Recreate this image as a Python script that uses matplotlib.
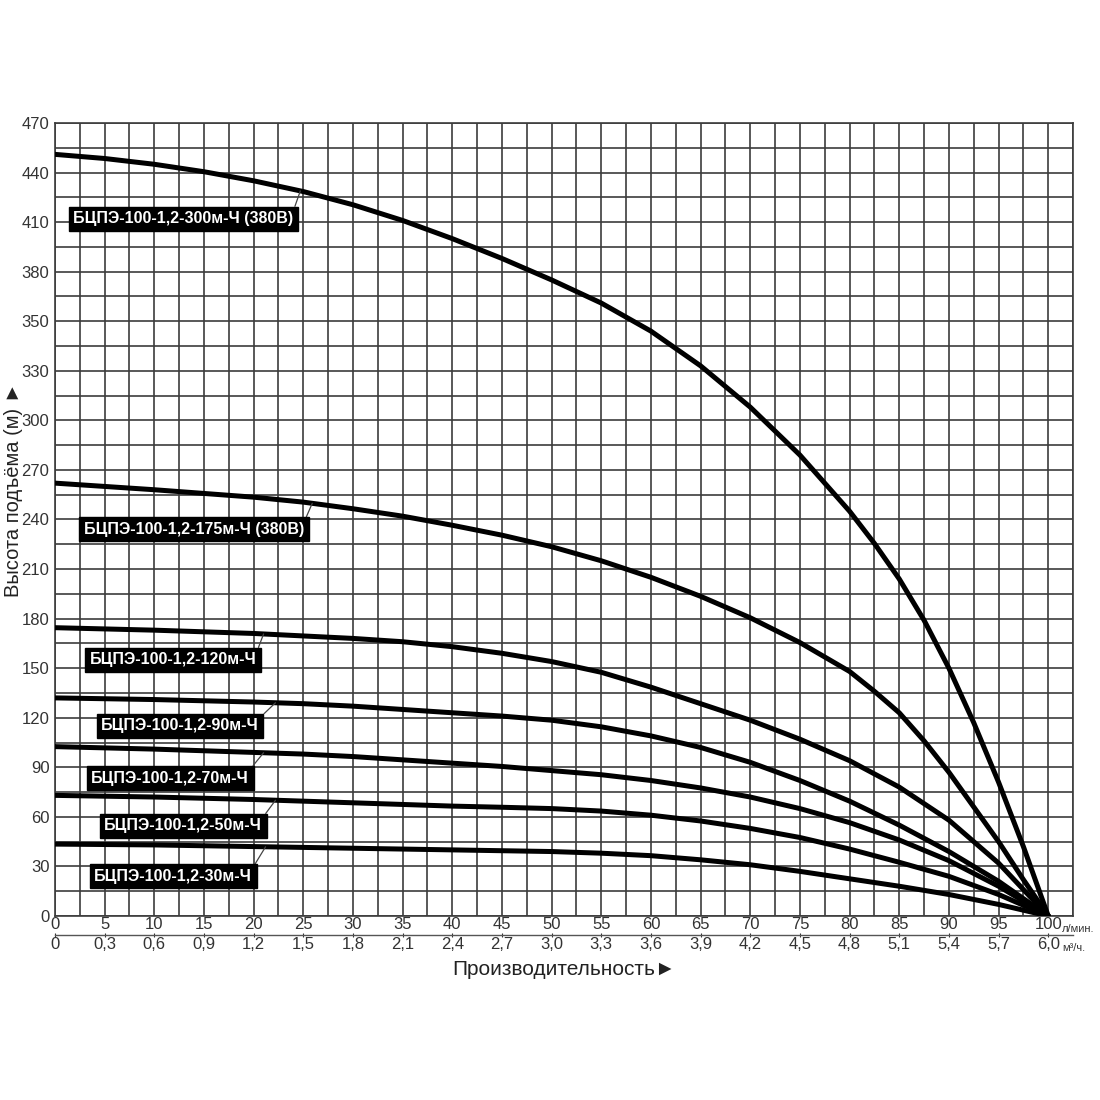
import numpy as np
import matplotlib
matplotlib.use('Agg')
import matplotlib.pyplot as plt

# Flow (l/min) and head.
# Head is given in the chart's own axis units: label k sits at 30*k.
flow_300 = [0, 5, 10, 15, 20, 25, 30, 35, 40, 45, 50, 55, 60, 65, 70, 75, 80, 82.5, 85, 87.5, 90, 92.5, 95, 97.5, 100]
head_300 = [461, 458.5, 455, 450.5, 445, 438.5, 430.5, 421, 410, 398, 385, 371, 354, 333, 308, 279, 245, 225.5, 204, 179, 150, 117, 81, 42, 0]

flow_175 = [0, 10, 20, 25, 30, 35, 40, 45, 50, 55, 60, 65, 70, 75, 80, 82.5, 85, 87.5, 90, 92.5, 95, 97.5, 100]
head_175 = [262, 258, 253.5, 250.5, 246.5, 242, 236.5, 230.5, 223.5, 215, 205, 193.5, 180.5, 165.5, 148, 136, 123, 106, 87, 66, 45, 22, 0]

flow_std = [0, 10, 20, 25, 30, 35, 40, 45, 50, 55, 60, 65, 70, 75, 80, 85, 90, 95, 100]
head_120 = [174.5, 173, 171, 169.5, 168, 166, 163, 159, 154, 147.5, 138.5, 128.5, 118.5, 107, 94, 78, 58, 32, 0]
head_90 = [132, 131, 129.5, 128.5, 127, 125, 123, 121, 118.5, 114.5, 109, 102, 93, 82, 69.5, 55, 39, 21, 0]
head_70 = [102.5, 101, 99, 98, 96.5, 94.5, 92.5, 90.5, 88, 85.5, 82, 77.5, 72, 65, 56.5, 46, 33.5, 18, 0]
head_50 = [73, 72, 70.5, 69.5, 68.5, 67.5, 66.5, 65.8, 65, 63.5, 61, 57.5, 53, 47.5, 40.5, 32.5, 24, 13, 0]
head_30 = [43.5, 43, 42, 41.5, 41, 40.5, 40, 39.5, 39, 38, 36.5, 34, 31, 27, 22.5, 18, 13, 7, 0]

names = ['БЦПЭ-100-1,2-300м-Ч (380В)', 'БЦПЭ-100-1,2-175м-Ч (380В)',
         'БЦПЭ-100-1,2-120м-Ч', 'БЦПЭ-100-1,2-90м-Ч', 'БЦПЭ-100-1,2-70м-Ч',
         'БЦПЭ-100-1,2-50м-Ч', 'БЦПЭ-100-1,2-30м-Ч']

y_labels = ['0', '30', '60', '90', '120', '150', '180', '210', '240', '270',
            '300', '330', '350', '380', '410', '440', '470']
x_labels = [str(v) for v in range(0, 101, 5)]
m3h_labels = ['0', '0,3', '0,6', '0,9', '1,2', '1,5', '1,8', '2,1', '2,4', '2,7', '3,0',
              '3,3', '3,6', '3,9', '4,2', '4,5', '4,8', '5,1', '5,4', '5,7', '6,0']

plt.rcParams['font.family'] = ['Liberation Sans', 'DejaVu Sans']

fig = plt.figure(figsize=(11, 11), dpi=100)
ax = fig.add_axes([0.05, 0.1673, 0.9255, 0.7209])

grid_col = '#3c3c3c'
ax.set_xlim(0, 102.5)
ax.set_ylim(0, 480)
ax.set_xticks(np.arange(0, 102.6, 2.5), minor=True)
ax.set_yticks(np.arange(0, 481, 15), minor=True)
ax.set_yticks(np.arange(0, 481, 30), labels=y_labels)
ax.set_xticks(np.arange(0, 101, 5), labels=x_labels)
ax.grid(which='both', color=grid_col, lw=1.2)
ax.set_axisbelow(True)
for s in ax.spines.values():
    s.set_color(grid_col)
    s.set_linewidth(1.2)

ax.tick_params(which='both', length=0, colors='#333333', labelsize=12)
ax.tick_params(axis='x', pad=1)
ax.tick_params(axis='y', pad=4)

# second scale in m3/h under the l/min labels
sec = ax.secondary_xaxis(-0.024)
sec.set_xticks(np.arange(0, 101, 5), labels=m3h_labels)
sec.spines['bottom'].set_color('#555555')
sec.spines['bottom'].set_linewidth(1.0)
sec.tick_params(length=3, direction='inout', colors='#333333', labelsize=12, pad=0)

ax.text(101.4, -0.016, 'л/мин.', transform=ax.get_xaxis_transform(), fontsize=8,
        color='#333333', ha='left', va='center')
ax.text(101.4, -0.04, 'м³/ч.', transform=ax.get_xaxis_transform(), fontsize=8,
        color='#333333', ha='left', va='center')

ax.set_xlabel('Производительность►', fontsize=15, color='#222222', labelpad=20)
fig.text(0.012, 0.555, 'Высота подъёма (м) ►', rotation=90, fontsize=14.5,
         color='#222222', ha='center', va='center')

curves = [(flow_300, head_300), (flow_175, head_175), (flow_std, head_120), (flow_std, head_90),
          (flow_std, head_70), (flow_std, head_50), (flow_std, head_30)]
for fl, hd in curves:
    ax.plot(fl, hd, color='black', lw=3.6, solid_capstyle='round', solid_joinstyle='round', zorder=3)

# label boxes: box centre and the flow where the leader meets the curve
box_x = [12.9, 14.0, 11.9, 12.6, 11.6, 12.9, 11.9]
box_y = [422, 234, 155, 115, 83.5, 54.5, 24]
lead_x = [24.7, 25.9, 21.0, 22.2, 21.0, 22.2, 21.2]
for (fl, hd), name, bx, by, lx in zip(curves, names, box_x, box_y, lead_x):
    ax.annotate(name, xy=(lx, np.interp(lx, fl, hd)), xytext=(bx, by),
                ha='center', va='center', color='white', fontsize=11.5, fontweight='bold',
                bbox=dict(boxstyle='square,pad=0.28', fc='black', ec='black'),
                arrowprops=dict(arrowstyle='-', color='#444444', lw=0.9, relpos=(1, 1),
                                shrinkA=0, shrinkB=0),
                zorder=4)

fig.savefig('out.png', dpi=100, facecolor='white')
